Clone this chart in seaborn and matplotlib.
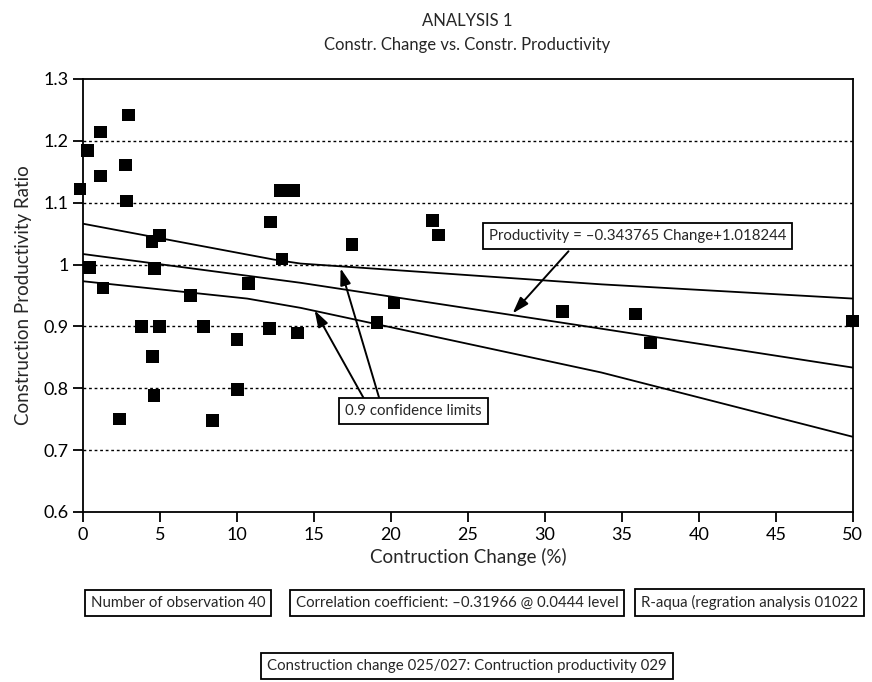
import numpy as np
import pandas as pd
import seaborn as sns
import matplotlib.pyplot as plt
from matplotlib.ticker import FormatStrFormatter

# Scatter data (construction change %, productivity ratio)
change = [-0.2, 0.28, 1.13, 2.95, 1.13, 2.76, 2.82, 12.17, 12.81, 13.26, 13.7,
          12.93, 4.47, 4.95, 0.41, 4.64, 1.3, 6.99, 10.76, 3.78, 4.97, 7.83,
          4.51, 2.36, 4.6, 10.0, 10.05, 8.42, 12.11, 13.93, 19.08, 20.2,
          22.68, 23.07, 17.47, 31.14, 35.89, 36.87, 49.96]
productivity = [1.122, 1.184, 1.214, 1.242, 1.143, 1.161, 1.103, 1.069, 1.12, 1.12, 1.12,
                1.009, 1.037, 1.047, 0.995, 0.994, 0.962, 0.95, 0.969, 0.9, 0.9, 0.9,
                0.851, 0.75, 0.788, 0.879, 0.798, 0.748, 0.897, 0.889, 0.906, 0.938,
                1.071, 1.048, 1.032, 0.924, 0.92, 0.873, 0.909]

# Regression line and 0.9 confidence limits
line_x = [0, 12.4, 14.13, 33.66, 50]
upper_y = [1.066, 1.008, 1.0016, 0.968, 0.945]
fit_x = [0, 14.13, 33.66, 50]
fit_y = [1.017, 0.9705, 0.8963, 0.8334]
lower_x = [0, 10.66, 14.13, 33.66, 50]
lower_y = [0.973, 0.945, 0.930, 0.8255, 0.7215]

x_ticks = list(range(0, 51, 5))
y_ticks = [0.6, 0.7, 0.8, 0.9, 1.0, 1.1, 1.2, 1.3]

sns.set_style("white")
plt.rcParams["font.family"] = ["Lato", "DejaVu Sans"]

fig = plt.figure(figsize=(8.72, 6.82), dpi=100)
ax = fig.add_axes([0.0952, 0.2493, 0.8829, 0.6349])

# dotted grid lines
for yv in y_ticks[1:-1]:
    ax.axhline(yv, color="black", lw=1.0, ls=(0, (2, 2)), zorder=1)

df_pts = pd.DataFrame({"change": change, "productivity": productivity})
sns.scatterplot(data=df_pts, x="change", y="productivity", marker="s", s=82,
                color="black", edgecolor="none", ax=ax, clip_on=False, zorder=4)

sns.lineplot(x=line_x, y=upper_y, color="black", lw=1.3, ax=ax, sort=False,
             estimator=None, zorder=3)
sns.lineplot(x=fit_x, y=fit_y, color="black", lw=1.3, ax=ax, sort=False,
             estimator=None, zorder=3)
sns.lineplot(x=lower_x, y=lower_y, color="black", lw=1.3, ax=ax, sort=False,
             estimator=None, zorder=3)

ax.set_xlim(0, 50)
ax.set_ylim(0.6, 1.3)
ax.set_xticks(x_ticks)
ax.set_yticks(y_ticks)
ax.yaxis.set_major_formatter(FormatStrFormatter("%g"))
ax.tick_params(direction="out", length=7, width=1.3, labelsize=13,
               colors="black", bottom=True, left=True)
for sp in ax.spines.values():
    sp.set_linewidth(1.3)
    sp.set_color("black")

ax.set_xlabel("Contruction Change (%)", fontsize=13.5, labelpad=4)
ax.set_ylabel("Construction Productivity Ratio", fontsize=13.5, labelpad=8)

fig.text(0.5356, 0.969, "ANALYSIS 1", ha="center", va="center", fontsize=12)
fig.text(0.5356, 0.934, "Constr. Change vs. Constr. Productivity",
         ha="center", va="center", fontsize=12)

box = dict(boxstyle="square,pad=0.4", fc="white", ec="black", lw=1.3)
arrow = dict(arrowstyle="-|>,head_length=1.0,head_width=0.32", color="black",
             lw=1.4, shrinkA=0, shrinkB=0)

ax.annotate("", xy=(27.9, 0.921), xytext=(31.53, 1.0215), arrowprops=arrow, zorder=5)
ax.text(36.0, 1.046, "Productivity = \u20130.343765 Change+1.018244", ha="center",
        va="center", fontsize=10.8, bbox=box, zorder=6)

ax.annotate("", xy=(15.04, 0.926), xytext=(18.25, 0.783), arrowprops=arrow, zorder=5)
ax.annotate("", xy=(16.73, 0.994), xytext=(19.25, 0.783), arrowprops=arrow, zorder=5)
ax.text(21.48, 0.764, "0.9 confidence limits", ha="center", va="center",
        fontsize=10.8, bbox=box, zorder=6)

fig.text(0.204, 0.116, "Number of observation 40", ha="center", va="center",
         fontsize=10.8, bbox=box)
fig.text(0.524, 0.116, "Correlation coefficient: \u20130.31966 @ 0.0444 level",
         ha="center", va="center", fontsize=10.8, bbox=box)
fig.text(0.859, 0.116, "R-aqua (regration analysis 01022", ha="center",
         va="center", fontsize=10.8, bbox=box)
fig.text(0.5356, 0.0235, "Construction change 025/027: Contruction productivity 029",
         ha="center", va="center", fontsize=10.8, bbox=box)

fig.savefig("out.png", dpi=100)
